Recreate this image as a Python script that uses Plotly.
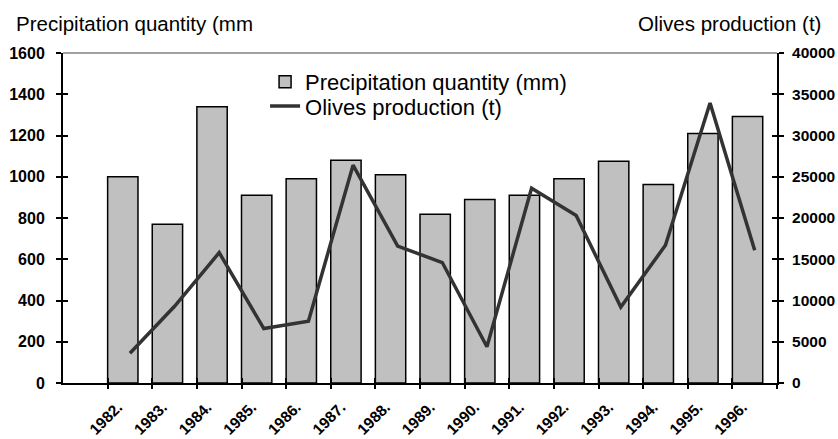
import plotly.graph_objects as go

# ---- data ----
years = ["1982.", "1983.", "1984.", "1985.", "1986.", "1987.", "1988.", "1989.",
         "1990.", "1991.", "1992.", "1993.", "1994.", "1995.", "1996."]
precipitation_mm = [1000, 770, 1340, 910, 990, 1080, 1010, 818, 890, 910, 990, 1075, 963, 1210, 1292]
olives_t = [3600, 9300, 15800, 6600, 7500, 26400, 16600, 14600, 4400, 23600, 20300, 9200, 16700, 33950, 16100]

left_ticks = [0, 200, 400, 600, 800, 1000, 1200, 1400, 1600]
right_ticks = [0, 5000, 10000, 15000, 20000, 25000, 30000, 35000, 40000]

pos = list(range(len(years)))
bounds = [p - 0.5 for p in pos] + [len(years) - 0.5]
xr = [-1.5, len(years) - 0.5]

FONT = "Liberation Sans, Arial, sans-serif"
tickfont = dict(family=FONT, size=16, color="black", weight="bold")
rtickfont = dict(family=FONT, size=15.5, color="black", weight="bold")
xtickfont = dict(family=FONT, size=15.5, color="black", weight="bold")
legfont = dict(family=FONT, size=22, color="black")

fig = go.Figure()
fig.add_trace(go.Bar(
    x=pos, y=precipitation_mm, name="Precipitation quantity (mm)",
    width=0.68, offset=-0.5,
    marker=dict(color="#C0C0C0", line=dict(color="black", width=1.5)),
    xaxis="x", yaxis="y", legend="legend",
))
fig.add_trace(go.Scatter(
    x=pos, y=olives_t, name="Olives production (t)", mode="lines",
    line=dict(color="#333333", width=3.5),
    xaxis="x", yaxis="y2", legend="legend2",
))
# empty helper traces so the tick-only overlay axes are drawn
fig.add_trace(go.Scatter(x=[None], y=[None], xaxis="x2", yaxis="y3",
                         showlegend=False, hoverinfo="skip", mode="lines"))
fig.add_trace(go.Scatter(x=[None], y=[None], xaxis="x3", yaxis="y4",
                         showlegend=False, hoverinfo="skip", mode="lines"))

axis_common = dict(showgrid=False, zeroline=False, automargin=False)
tick_common = dict(ticklen=5, tickwidth=2, tickcolor="black")

fig.update_layout(
    template="none",
    width=838, height=439,
    margin=dict(l=63, r=61, t=53, b=56, autoexpand=False),
    paper_bgcolor="white", plot_bgcolor="white",
    showlegend=True,
    legend=dict(
        x=0.283, y=0.912, xanchor="left", yanchor="middle",
        xref="paper", yref="paper", font=legfont,
        bgcolor="rgba(0,0,0,0)", tracegroupgap=0,
    ),
    legend2=dict(
        x=0.283, y=0.839, xanchor="left", yanchor="middle",
        xref="paper", yref="paper", font=legfont,
        bgcolor="rgba(0,0,0,0)", tracegroupgap=0,
    ),
    xaxis=dict(
        range=xr, tickmode="array", tickvals=pos, ticktext=years,
        tickangle=-45, ticks="", tickfont=xtickfont, ticklabelshift=-12,
        ticklabelstandoff=7,
        showline=True, linecolor="black", linewidth=2, **axis_common,
    ),
    xaxis2=dict(
        range=xr, overlaying="x", anchor="y3", side="bottom",
        tickmode="array", tickvals=bounds, ticks="outside", **tick_common,
        showticklabels=False, showline=False, **axis_common,
    ),
    xaxis3=dict(
        range=xr, overlaying="x", anchor="y4", side="bottom",
        tickmode="array", tickvals=bounds, ticks="inside", **tick_common,
        showticklabels=False, showline=False, **axis_common,
    ),
    yaxis=dict(
        range=[0, 1600], tickmode="array", tickvals=left_ticks,
        ticktext=[str(v) for v in left_ticks],
        ticks="outside", **tick_common, ticklabelstandoff=8,
        tickfont=tickfont, showline=True, linecolor="black", linewidth=2,
        **axis_common,
    ),
    yaxis2=dict(
        range=[0, 40000], overlaying="y", side="right", anchor="x",
        tickmode="array", tickvals=right_ticks,
        ticktext=[str(v) for v in right_ticks],
        ticks="outside", **tick_common, ticklabelstandoff=5,
        tickfont=rtickfont, showline=True, linecolor="black", linewidth=2,
        **axis_common,
    ),
    yaxis3=dict(
        range=[0, 1600], overlaying="y", side="left", anchor="x2",
        tickmode="array", tickvals=left_ticks, ticks="inside", **tick_common,
        showticklabels=False, showline=False, **axis_common,
    ),
    yaxis4=dict(
        range=[0, 40000], overlaying="y", side="right", anchor="x3",
        tickmode="array", tickvals=right_ticks, ticks="inside", **tick_common,
        showticklabels=False, showline=False, **axis_common,
    ),
    shapes=[dict(type="line", xref="paper", yref="paper", x0=0, x1=1, y0=1, y1=1,
                 line=dict(color="#808080", width=1.3), layer="below")],
    annotations=[
        dict(text="Precipitation quantity (mm", xref="paper", yref="paper",
             x=-0.0686, y=1.088, xanchor="left", yanchor="middle", showarrow=False,
             font=dict(family=FONT, size=20.5, color="black")),
        dict(text="Olives production (t)", xref="paper", yref="paper",
             x=1.0644, y=1.088, xanchor="right", yanchor="middle", showarrow=False,
             font=dict(family=FONT, size=20.5, color="black")),
    ],
)

fig.write_html(
    "out.html",
    config={"displayModeBar": False},
    post_script="document.body.style.margin='0';"
                "document.documentElement.style.overflow='hidden';",
)
